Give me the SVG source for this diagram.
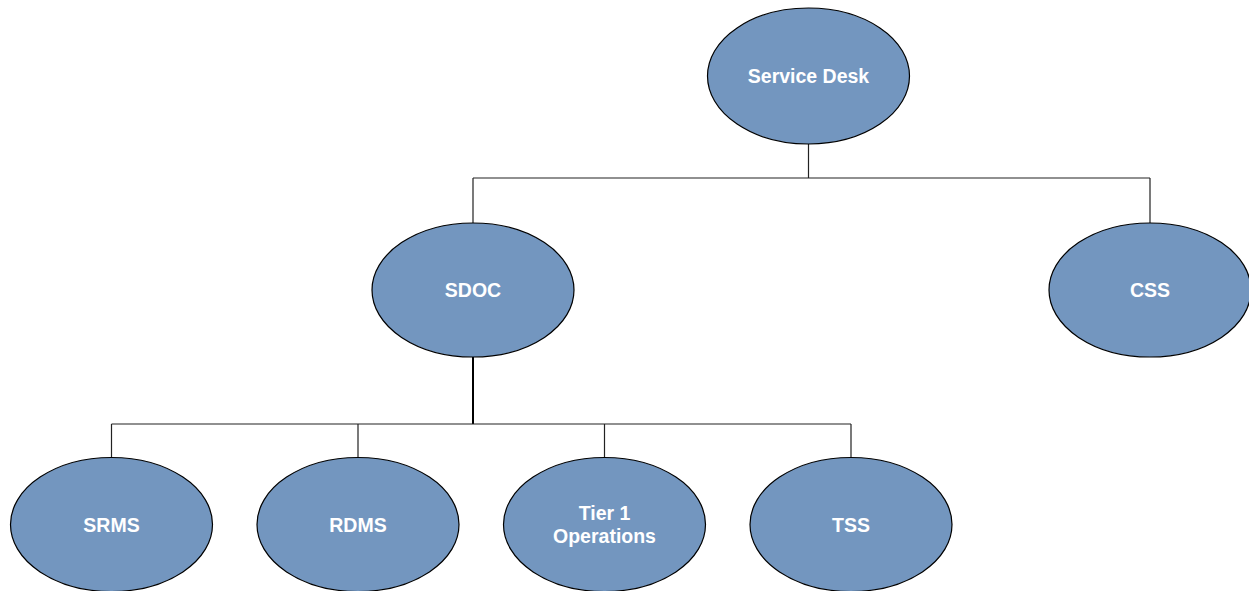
<svg xmlns="http://www.w3.org/2000/svg" width="1249" height="591" viewBox="0 0 1249 591">
  <style>
    .node ellipse { fill: #7396BF; stroke: #000000; stroke-width: 1.2; }
    .node text { font-family: "Liberation Sans", Arial, sans-serif; font-weight: bold; font-size: 19.5px; fill: #FFFFFF; text-anchor: middle; }
    .links path { fill: none; stroke: #222222; stroke-width: 1.2; }
    .links path.trunk { stroke: #000000; stroke-width: 2; }
  </style>
  <rect width="1249" height="591" fill="#FFFFFF"/>

  <!-- connectors -->
  <g id="connectors" class="links">
    <path d="M808.5 144 V178 M473 178 H1150 M473 178 V223 M1150 178 V223"/>
    <path class="trunk" d="M473 357 V424"/>
    <path d="M111.5 424 H851 M111.5 424 V457.5 M358 424 V457.5 M604.5 424 V457.5 M851 424 V457.5"/>
  </g>

  <!-- nodes -->
  <g id="service-desk" class="node">
    <ellipse cx="808.5" cy="76" rx="101" ry="68"/>
    <text x="808.5" y="83">Service Desk</text>
  </g>
  <g id="sdoc" class="node">
    <ellipse cx="473" cy="290" rx="101" ry="67"/>
    <text x="473" y="297">SDOC</text>
  </g>
  <g id="css" class="node">
    <ellipse cx="1150" cy="290" rx="101" ry="67"/>
    <text x="1150" y="297">CSS</text>
  </g>
  <g id="srms" class="node">
    <ellipse cx="111.5" cy="524.5" rx="101" ry="67"/>
    <text x="111.5" y="531.5">SRMS</text>
  </g>
  <g id="rdms" class="node">
    <ellipse cx="358" cy="524.5" rx="101" ry="67"/>
    <text x="358" y="531.5">RDMS</text>
  </g>
  <g id="tier1-operations" class="node">
    <ellipse cx="604.5" cy="524.5" rx="101" ry="67"/>
    <text x="604.5" y="520">Tier 1</text>
    <text x="604.5" y="543">Operations</text>
  </g>
  <g id="tss" class="node">
    <ellipse cx="851" cy="524.5" rx="101" ry="67"/>
    <text x="851" y="531.5">TSS</text>
  </g>
</svg>
